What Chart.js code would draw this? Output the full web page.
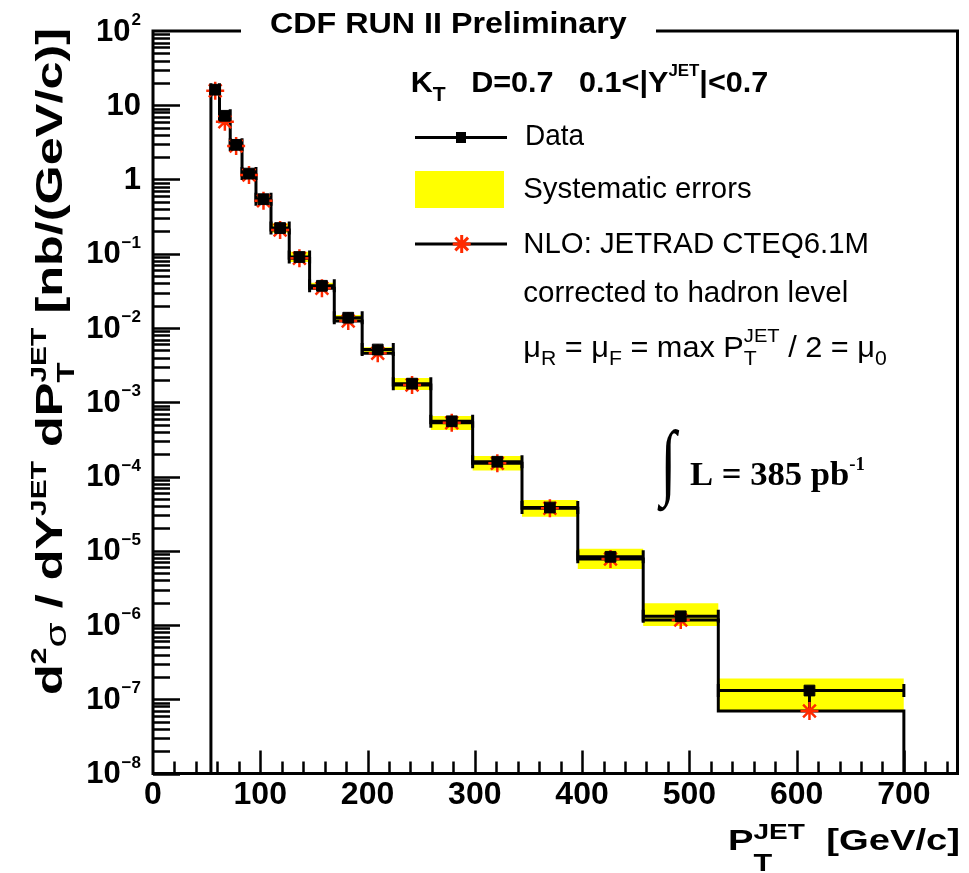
<!DOCTYPE html>
<html>
<head>
<meta charset="utf-8">
<script src="https://cdn.jsdelivr.net/npm/chart.js@4.4.1/dist/chart.umd.min.js"></script>
<style>
html,body{margin:0;padding:0;background:#fff;overflow:hidden}
#wrap{position:relative;width:969px;height:873px;background:#fff}
</style>
</head>
<body>
<div id="wrap"><canvas id="c" width="969" height="873"></canvas></div>
<script>
// ---------------- data ----------------
const binEdges   = [54, 62, 72, 83, 96, 110, 127, 146, 169, 195, 224, 259, 298, 344, 396, 457, 527, 700];
const binCenters = [58, 67, 77.5, 89.5, 103, 118.5, 136.5, 157.5, 182, 209.5, 241.5, 278.5, 321, 370, 426.5, 492, 612];
const dataValues = [16.2, 7.21, 2.93, 1.20, 0.543, 0.222, 0.0904, 0.0370, 0.01376, 0.00513, 1.78e-3, 5.54e-4, 1.58e-4, 3.82e-5, 8.29e-6, 1.31e-6, 1.31e-7];
const statLow    = [15.9, 7.08, 2.88, 1.18, 0.534, 0.218, 0.0888, 0.0363, 0.0135, 0.00503, 1.74e-3, 5.42e-4, 1.53e-4, 3.65e-5, 7.7e-6, 1.15e-6, 7.2e-8];
const statHigh   = [16.5, 7.34, 2.98, 1.22, 0.552, 0.226, 0.0920, 0.0377, 0.01402, 0.00523, 1.82e-3, 5.66e-4, 1.63e-4, 4.0e-5, 8.9e-6, 1.47e-6, 1.45e-7];
const sysLow     = [14.7, 6.5, 2.65, 1.08, 0.48, 0.192, 0.0774, 0.0335, 0.01242, 0.00475, 1.46e-3, 4.23e-4, 1.20e-4, 2.87e-5, 5.68e-6, 9.7e-7, 7.16e-8];
const sysHigh    = [17.8, 7.9, 3.2, 1.33, 0.61, 0.257, 0.1066, 0.0407, 0.01496, 0.0055, 2.12e-3, 6.53e-4, 1.89e-4, 4.83e-5, 1.06e-5, 1.96e-6, 1.91e-7];
const nloValues  = [15.7, 6.0, 2.83, 1.15, 0.518, 0.209, 0.0868, 0.0342, 0.01243, 0.00456, 1.707e-3, 5.30e-4, 1.51e-4, 3.73e-5, 7.74e-6, 1.17e-6, 6.95e-8];
const xTickLabels = ['0', '100', '200', '300', '400', '500', '600', '700'];
const yTickValues = [1e-8, 1e-7, 1e-6, 1e-5, 1e-4, 1e-3, 1e-2, 1e-1, 1, 10, 100];
const yTickLabels = ['10^\u22128', '10^\u22127', '10^\u22126', '10^\u22125', '10^\u22124', '10^\u22123', '10^\u22122', '10^\u22121', '1', '10', '10^2'];
const X_MIN = 0, X_MAX = 750, Y_MIN = 1e-8, Y_MAX = 100;

// ---------------- styles ----------------
const SANS = '"Liberation Sans", Arial, Helvetica, sans-serif';
const SERIF = '"Liberation Serif", "Times New Roman", serif';
const RED = '#ff2a00';
const YELLOW = '#ffff00';
function fnt(size, bold, fam) { return (bold ? 'bold ' : '') + size + 'px ' + (fam || SANS); }

// ---------------- derived point lists (built from the arrays) ----------------
const last = nloValues.length - 1;
const sysLowPts  = binEdges.map((e, i) => ({x: e, y: sysLow[Math.min(i, last)]}));
const sysHighPts = binEdges.map((e, i) => ({x: e, y: sysHigh[Math.min(i, last)]}));
const nloHistPts = [{x: binEdges[0], y: Y_MIN}]
  .concat(binEdges.map((e, i) => ({x: e, y: nloValues[Math.min(i, last)]})))
  .concat([{x: binEdges[binEdges.length - 1], y: Y_MIN}]);
const dataXErrPts = [];
dataValues.forEach((v, i) => { dataXErrPts.push({x: binEdges[i], y: v}, {x: binEdges[i + 1], y: v}, {x: binEdges[i + 1], y: null}); });
const dataYErrPts = [];
dataValues.forEach((v, i) => { dataYErrPts.push({x: binCenters[i], y: statLow[i]}, {x: binCenters[i], y: statHigh[i]}, {x: binCenters[i], y: null}); });
const nloPts  = binCenters.map((c, i) => ({x: c, y: nloValues[i]}));
const dataPts = binCenters.map((c, i) => ({x: c, y: dataValues[i]}));

// ---------------- text helpers ----------------
function richLayout(ctx, segs) {
  let cx = 0, lastStart = 0, lastW = 0; const out = [];
  for (const s of segs) {
    ctx.font = fnt(s.size, s.bold, s.fam);
    const w = ctx.measureText(s.t).width;
    if (s.stack) { out.push({s, x: lastStart}); const nw = Math.max(lastW, w); cx = lastStart + nw; lastW = nw; }
    else { out.push({s, x: cx}); lastStart = cx; lastW = w; cx += w; }
  }
  return {items: out, width: cx};
}
function drawRich(ctx, segs, x, y, width) {
  const L = richLayout(ctx, segs);
  const sx = width ? width / L.width : 1;
  ctx.save(); ctx.translate(x, y); ctx.scale(sx, 1);
  ctx.textBaseline = 'alphabetic'; ctx.textAlign = 'left';
  for (const it of L.items) {
    ctx.font = fnt(it.s.size, it.s.bold, it.s.fam);
    ctx.fillStyle = it.s.color || '#000';
    ctx.fillText(it.s.t, it.x, it.s.dy || 0);
  }
  ctx.restore();
}
function fitGlyph(ctx, text, font, x0, y0, x1, y1) {
  ctx.save(); ctx.font = font; ctx.textBaseline = 'alphabetic'; ctx.textAlign = 'left';
  const m = ctx.measureText(text);
  const w = m.actualBoundingBoxLeft + m.actualBoundingBoxRight;
  const h = m.actualBoundingBoxAscent + m.actualBoundingBoxDescent;
  ctx.translate(x0, y0); ctx.scale((x1 - x0) / w, (y1 - y0) / h);
  ctx.fillStyle = '#000';
  ctx.fillText(text, m.actualBoundingBoxLeft, m.actualBoundingBoxAscent);
  ctx.restore();
}

// ---------------- decorations plugin (frame, ticks, texts, legend) ----------------
const decor = {
  id: 'decor',
  afterDatasetsDraw(chart) {
    const {ctx, chartArea: a, scales} = chart;
    const xs = scales.x, ys = scales.y;
    ctx.save();
    // inward tick marks
    ctx.strokeStyle = '#000'; ctx.lineWidth = 2.5; ctx.beginPath();
    for (let e = -8; e < 2; e++) {
      for (let k = 1; k < 10; k++) {
        const py = Math.round(ys.getPixelForValue(k * Math.pow(10, e))) + 0.5;
        const len = k === 1 ? 27 : 17;
        ctx.moveTo(a.left, py); ctx.lineTo(a.left + len, py);
      }
    }
    for (let v = 20; v < X_MAX; v += 20) {
      const px = Math.round(xs.getPixelForValue(v)) + 0.5;
      const len = v % 100 === 0 ? 23 : 12;
      ctx.moveTo(px, a.bottom); ctx.lineTo(px, a.bottom - len);
    }
    ctx.stroke();
    // frame
    ctx.lineWidth = 3;
    ctx.strokeRect(a.left, a.top, a.right - a.left, a.bottom - a.top);

    // y tick labels
    ctx.fillStyle = '#000'; ctx.textBaseline = 'alphabetic';
    const rightX = 141;
    yTickValues.forEach((v, i) => {
      const py = ys.getPixelForValue(v);
      const parts = yTickLabels[i].split('^');
      let r = rightX;
      if (parts.length > 1) {
        ctx.font = fnt(17, true); ctx.textAlign = 'right';
        const ew = ctx.measureText(parts[1]).width;
        ctx.fillText(parts[1], r, py - 6);
        r -= ew + 1;
      }
      ctx.font = fnt(31, true); ctx.textAlign = 'right';
      ctx.fillText(parts[0], r, py + 9.6);
    });

    // title box
    ctx.fillStyle = '#fff'; ctx.fillRect(241, 0, 415, 45);
    drawRich(ctx, [{t: 'CDF RUN II Preliminary', size: 30, bold: true}], 270, 33.3, 356.7);

    // legend header
    drawRich(ctx, [
      {t: 'K', size: 29, bold: true},
      {t: 'T', size: 20, bold: true, dy: 9},
      {t: '   D=0.7   0.1<|Y', size: 29, bold: true},
      {t: 'JET', size: 16, bold: true, dy: -16},
      {t: '|<0.7', size: 29, bold: true}
    ], 410.7, 92.3, 357.6);

    // legend symbols
    ctx.strokeStyle = '#000'; ctx.lineWidth = 3;
    ctx.beginPath(); ctx.moveTo(415, 137.5); ctx.lineTo(507, 137.5); ctx.stroke();
    ctx.fillStyle = '#000'; ctx.fillRect(456, 132, 10, 11);
    ctx.fillStyle = YELLOW; ctx.fillRect(415, 171, 89, 37);
    ctx.beginPath(); ctx.moveTo(415, 244); ctx.lineTo(507, 244); ctx.stroke();
    ctx.strokeStyle = RED; ctx.fillStyle = RED;
    Chart.helpers.drawPoint(ctx, {pointStyle: 'star', radius: 9, borderWidth: 2.5, rotation: 0}, 461.7, 244);

    // legend texts
    drawRich(ctx, [{t: 'Data', size: 29}], 525, 145, 59);
    drawRich(ctx, [{t: 'Systematic errors', size: 29}], 523.3, 198.3, 228.3);
    drawRich(ctx, [{t: 'NLO: JETRAD CTEQ6.1M', size: 29}], 523.3, 253.3, 345.7);
    drawRich(ctx, [{t: 'corrected to hadron level', size: 29}], 523.3, 301.7, 325);
    drawRich(ctx, [
      {t: '\u03bc', size: 29}, {t: 'R', size: 20, dy: 8},
      {t: ' = \u03bc', size: 29}, {t: 'F', size: 20, dy: 8},
      {t: ' = max P', size: 29}, {t: 'T', size: 20, dy: 8}, {t: 'JET', size: 19, dy: -15, stack: true},
      {t: ' / 2 = \u03bc', size: 29}, {t: '0', size: 20, dy: 8}
    ], 523.3, 356.7, 363.4);

    // luminosity
    fitGlyph(ctx, '\u222b', fnt(80, false, SERIF), 657, 428, 680, 512);
    drawRich(ctx, [
      {t: 'L = 385 pb', size: 33, bold: true, fam: SERIF},
      {t: '-1', size: 18, bold: true, fam: SERIF, dy: -15}
    ], 690, 485, 175);

    // x axis title
    drawRich(ctx, [
      {t: 'P', size: 30, bold: true},
      {t: 'T', size: 24, bold: true, dy: 21},
      {t: 'JET', size: 22, bold: true, dy: -11, stack: true},
      {t: '  [GeV/c]', size: 30, bold: true}
    ], 728, 850, 232);

    // y axis title (rotated)
    ctx.save();
    ctx.translate(62, 695); ctx.rotate(-Math.PI / 2);
    drawRich(ctx, [
      {t: 'd', size: 37, bold: true},
      {t: '2', size: 22, bold: true, dy: -16},
      {t: '\u03c3', size: 30, dy: 4},
      {t: ' / dY', size: 37, bold: true},
      {t: 'JET', size: 22, bold: true, dy: -16},
      {t: ' dP', size: 37, bold: true},
      {t: 'T', size: 24, bold: true, dy: 12},
      {t: 'JET', size: 22, bold: true, dy: -16, stack: true},
      {t: ' [nb/(GeV/c)]', size: 37, bold: true}
    ], 0, 0, 667);
    ctx.restore();

    ctx.restore();
  }
};

// ---------------- chart ----------------
new Chart(document.getElementById('c'), {
  type: 'line',
  data: {
    datasets: [
      {label: 'sysLow', data: sysLowPts, stepped: 'before', borderWidth: 0, pointRadius: 0, fill: false, order: 10, borderColor: 'rgba(0,0,0,0)'},
      {label: 'Systematic errors', data: sysHighPts, stepped: 'before', borderWidth: 0, pointRadius: 0, fill: '-1', backgroundColor: YELLOW, borderColor: 'rgba(0,0,0,0)', order: 9},
      {label: 'NLO histogram', data: nloHistPts, stepped: 'before', borderColor: '#000', borderWidth: 3, pointRadius: 0, fill: false, order: 5},
      {label: 'Data x-range', data: dataXErrPts, borderColor: '#000', borderWidth: 3, fill: false, spanGaps: false,
       pointStyle: 'line', rotation: 90, pointRadius: 6.5, pointBorderWidth: 3, pointBorderColor: '#000', order: 4},
      {label: 'Data stat', data: dataYErrPts, borderColor: '#000', borderWidth: 3, fill: false, spanGaps: false, pointRadius: 0, order: 3},
      {label: 'NLO: JETRAD CTEQ6.1M', data: nloPts, showLine: false, pointStyle: 'star', pointRadius: 9,
       pointBorderWidth: 2.5, pointBorderColor: RED, pointBackgroundColor: RED, order: 2},
      {label: 'Data', data: dataPts, showLine: false, pointStyle: 'rect', pointRadius: 7.6,
       pointBorderWidth: 1, pointBorderColor: '#000', pointBackgroundColor: '#000', order: 1}
    ]
  },
  options: {
    responsive: false, animation: false, devicePixelRatio: 1,
    layout: {padding: {left: 153, right: 11, top: 31, bottom: 49.5}},
    plugins: {legend: {display: false}, tooltip: {enabled: false}, title: {display: false}},
    elements: {line: {tension: 0}},
    scales: {
      x: {
        type: 'linear', min: X_MIN, max: X_MAX,
        grid: {display: false, drawTicks: false}, border: {display: false},
        afterBuildTicks(s) { s.ticks = xTickLabels.map(t => ({value: Number(t)})); },
        afterFit(s) { s.height = 50; },
        ticks: {autoSkip: false, maxRotation: 0, minRotation: 0, padding: 2, color: '#000',
                font: {family: SANS, size: 32, weight: 'bold'},
                callback: (v, i) => xTickLabels[i]}
      },
      y: {
        type: 'logarithmic', min: Y_MIN, max: Y_MAX,
        grid: {display: false, drawTicks: false}, border: {display: false},
        ticks: {display: false},
        afterFit(s) { s.width = 0; }
      }
    }
  },
  plugins: [decor]
});
</script>
</body>
</html>
